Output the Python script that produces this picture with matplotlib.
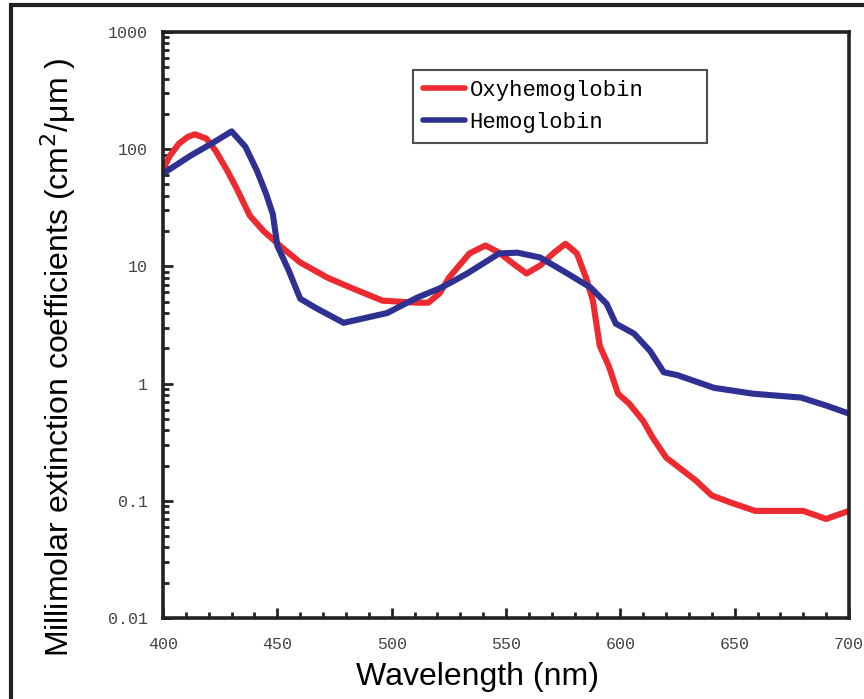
import numpy as np
import matplotlib
matplotlib.use('Agg')
import matplotlib.pyplot as plt
from matplotlib.patches import Rectangle
from matplotlib.ticker import LogLocator, MultipleLocator, FixedLocator

# Oxyhemoglobin (red)
wl_oxy = [400, 403, 407, 411, 414, 419, 423, 428, 432, 438, 444, 452, 460, 472, 482,
          496, 511, 516, 521, 525, 534, 541, 547, 553, 559, 565, 571, 576, 581,
          585, 588, 591, 595, 599, 604, 610, 614, 620, 626, 633, 640, 648, 659,
          680, 690, 700]
oxy = [68, 88, 112, 128, 134, 123, 97, 66, 47, 27, 20, 14.5, 10.8, 8.0, 6.6,
       5.1, 4.9, 4.9, 5.9, 8.0, 12.9, 15.1, 13.1, 10.6, 8.7, 10.2, 13.1, 15.6, 12.9,
       8.0, 5.1, 2.1, 1.4, 0.82, 0.67, 0.48, 0.35, 0.234, 0.19, 0.149, 0.111, 0.097, 0.082,
       0.082, 0.070, 0.082]

# Hemoglobin (blue)
wl_hb = [400, 412, 422, 430, 436, 441, 445, 448, 450, 455, 460, 467, 479, 498,
         511, 521, 526, 533, 547, 555, 565, 576, 587, 594, 598, 606, 613, 619,
         625, 641, 658, 679, 690, 700]
hb = [62, 88, 114, 142, 105, 66, 42, 28, 15, 9.2, 5.3, 4.4, 3.3, 4.0,
      5.4, 6.5, 7.3, 8.7, 12.9, 13.1, 11.9, 8.9, 6.6, 4.8, 3.25, 2.67, 1.9, 1.25,
      1.18, 0.92, 0.82, 0.76, 0.65, 0.555]

xticks = [400, 450, 500, 550, 600, 650, 700]
yticks = [0.01, 0.1, 1, 10, 100, 1000]
ylabels = ['0.01', '0.1', '1', '10', '100', '1000']

red = '#ED2A2F'
blue = '#2E3192'
mono = 'Liberation Mono'
sans = 'Liberation Sans'

fig = plt.figure(figsize=(8.64, 6.99), dpi=100)
ax = fig.add_axes([0.1887, 0.1159, 0.7939, 0.8383])

ax.plot(wl_oxy, oxy, color=red, lw=4.4, solid_joinstyle='round',
        solid_capstyle='round', label='Oxyhemoglobin')
ax.plot(wl_hb, hb, color=blue, lw=4.4, solid_joinstyle='round',
        solid_capstyle='round', label='Hemoglobin')

ax.set_yscale('log')
ax.set_xlim(400, 700)
ax.set_ylim(0.01, 1000)

ax.xaxis.set_major_locator(FixedLocator(xticks))
ax.xaxis.set_minor_locator(MultipleLocator(10))
ax.yaxis.set_major_locator(FixedLocator(yticks))
ax.yaxis.set_minor_locator(LogLocator(base=10, subs=np.arange(2, 10)))
ax.set_xticklabels([str(v) for v in xticks])
ax.set_yticklabels(ylabels)
ax.yaxis.set_minor_formatter(matplotlib.ticker.NullFormatter())

ax.tick_params(which='both', direction='in', top=False, right=False,
               width=2, colors='#222222', labelcolor='#444444')
ax.tick_params(which='major', length=7)
ax.tick_params(which='minor', length=4.5)
ax.tick_params(axis='x', which='major', pad=14)
ax.tick_params(axis='y', which='major', pad=11)
for lab in ax.get_xticklabels() + ax.get_yticklabels():
    lab.set_fontfamily(mono)
    lab.set_fontsize(12)

for s in ax.spines.values():
    s.set_linewidth(2.6)
    s.set_color('#222222')

ax.set_xlabel('Wavelength (nm)', fontsize=23, family=sans, labelpad=6)
ax.xaxis.set_label_coords(0.458, -0.075)
ax.set_ylabel('Millimolar extinction coefficients (cm$^{2}$/\u03bcm )',
              fontsize=23, family=sans)
ax.yaxis.set_label_coords(-0.124, 0.445)

leg = ax.legend(loc='upper left', bbox_to_anchor=(0.3644, 0.812, 0.4286, 0.123),
                mode='expand', borderaxespad=0, fancybox=False, frameon=True,
                prop={'family': mono, 'size': 16}, handlelength=1.9,
                handletextpad=0.2, labelspacing=0.5, borderpad=0.45)
leg.get_frame().set_edgecolor('#222222')
leg.get_frame().set_linewidth(1.5)
for line in leg.get_lines():
    line.set_linewidth(4)

# outer frame, runs off the right and bottom edge
fig.patches.append(Rectangle((0.0127, -0.2), 1.5, 0.9928 + 0.2, fill=False,
                             lw=3, ec='#222222', transform=fig.transFigure,
                             figure=fig))

fig.savefig('out.png', dpi=100)
